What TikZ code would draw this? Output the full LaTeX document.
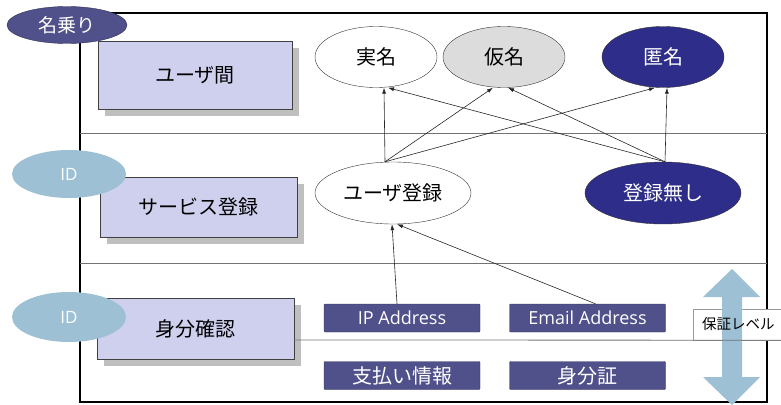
\documentclass[tikz,border=0pt]{standalone}
\usepackage{fontspec}
\setmainfont{Noto Sans CJK JP}
\newfontfamily\latin{Open Sans}
\usetikzlibrary{arrows.meta,shadows,shapes.geometric}
\definecolor{lavbox}{HTML}{CFCFEE}
\definecolor{navy}{HTML}{2E2E8A}
\definecolor{tagnavy}{HTML}{50508A}
\definecolor{idblue}{HTML}{9DC0D4}
\definecolor{kagray}{HTML}{DCDCDC}
\pgfdeclarelayer{back}
\pgfsetlayers{back,main}
\begin{document}
\begin{tikzpicture}[x=1pt,y=-1pt,
    lvbox/.style={draw=black!75,fill=lavbox,minimum width=194pt,minimum height=62pt,
      font=\fontsize{20}{22}\selectfont,
      drop shadow={shadow xshift=7pt,shadow yshift=-7pt,fill=black!25,opacity=1}},
    tag/.style={ellipse,inner sep=0pt,minimum width=114pt,minimum height=48pt,
      text=white,font=\latin\fontsize{17}{19}\selectfont},
    kind/.style={ellipse,draw=black!80,inner sep=0pt,minimum width=122pt,minimum height=61pt,
      font=\fontsize{20}{22}\selectfont},
    reg/.style={kind,minimum width=156pt,minimum height=62pt},
    proof/.style={draw=tagnavy!70!black,fill=tagnavy,rounded corners=1pt,inner sep=0pt,
      minimum width=156pt,minimum height=28pt,text=white,font=\fontsize{20}{22}\selectfont},
    link/.style={black!85,line width=.6pt,-{Latex[length=6pt,width=4pt]}},
    sep/.style={black!55,line width=.8pt}]
  \useasboundingbox (0,0) rectangle (781,404);
  \clip (0,0) rectangle (781,404);
  % frame and rows
  \begin{pgfonlayer}{back}
    \draw[line width=2pt] (80,13) rectangle (767,402);
    \foreach \y in {133,263}{
      \draw[sep] (80,\y) -- (767,\y);
    }
  \end{pgfonlayer}
  % left column
  \node[lvbox,minimum height=68pt] (kan) at (195,75) {ユーザ間};
  \node[lvbox,minimum width=197pt,minimum height=60pt] (svc) at (198.5,207) {サービス登録};
  \node[lvbox,minimum width=197pt,minimum height=61pt] (shin) at (195.5,328.5) {身分確認};
  \node[tag,fill=tagnavy,draw=tagnavy!60!black,minimum width=120pt,minimum height=37pt,
        font=\fontsize{19}{21}\selectfont] (nanori) at (67,25) {名乗り};
  \node[tag,fill=idblue] (id1) at (69,174) {ID};
  \node[tag,fill=idblue,minimum height=50pt] (id2) at (69,317) {ID};
  % names
  \node[kind,fill=white] (jitsu) at (376,57) {実名};
  \node[kind,fill=kagray] (kamei) at (504,57) {仮名};
  \node[kind,fill=navy,text=white] (tokumei) at (663,57) {匿名};
  % registration
  \node[reg,fill=white] (usr) at (393,193) {ユーザ登録};
  \node[reg,fill=navy,text=white] (nashi) at (663,193) {登録無し};
  % proofs
  \foreach \n/\x/\y/\t in {ip/402/318/{\latin\fontsize{18}{20}\selectfont IP Address},
                           email/587.5/318/{\latin\fontsize{18}{20}\selectfont Email Address},
                           pay/402/375.5/支払い情報,
                           card/587.5/375.5/身分証}{
    \node[proof] (\n) at (\x,\y) {\t};
  }
  % arrows
  \foreach \t/\d in {jitsu/8,kamei/-11,tokumei/-8}{
    \draw[link] ([xshift=-8pt]usr.north) -- ([xshift=\d pt]\t.south);
  }
  \foreach \t/\d in {jitsu/12,kamei/4,tokumei/4}{
    \draw[link] ([xshift=2pt]nashi.north) -- ([xshift=\d pt]\t.south);
  }
  \draw[link] ([xshift=-5pt]ip.north) -- ([xshift=-1pt]usr.south);
  \draw[link] ([xshift=8pt]email.north) -- ([xshift=4pt]usr.south);
  % level
  \fill[idblue] (732,269) -- (760,297) -- (742,297) -- (742,377) -- (760,377) -- (732,405)
    -- (703,377) -- (722,377) -- (722,297) -- (703,297) -- cycle;
  \node[anchor=west,inner xsep=9pt,inner ysep=0pt,minimum height=31pt,
        font=\fontsize{14.5}{17}\selectfont] (lvl) at (693,324.5) {保証レベル};
  \begin{pgfonlayer}{back}
    \draw[black!40,fill=white] (lvl.south west) rectangle (lvl.north east);
  \end{pgfonlayer}
  \draw[sep] ([yshift=-11.5pt]shin.east) -- (lvl.south east);
\end{tikzpicture}
\end{document}
